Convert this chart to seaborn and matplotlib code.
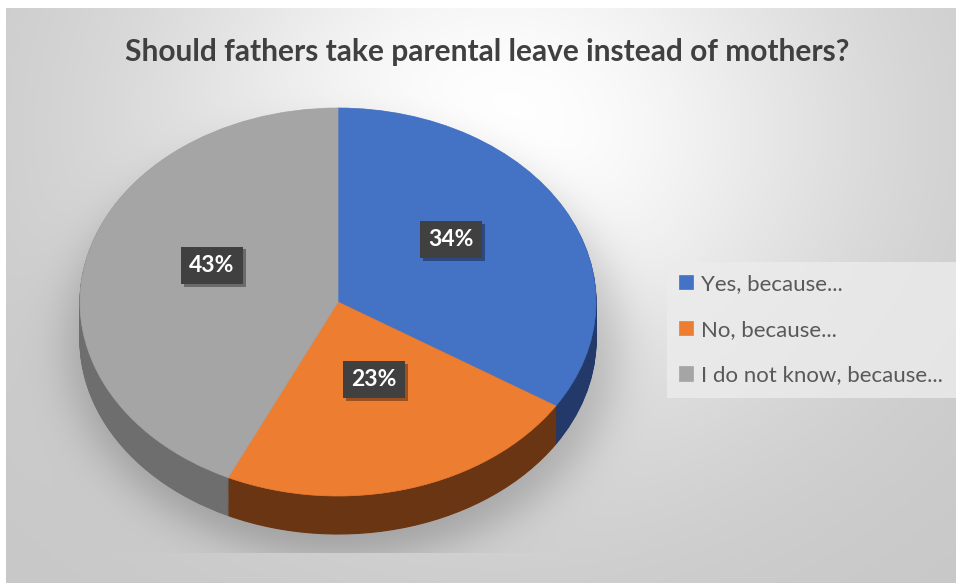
import numpy as np
import matplotlib
matplotlib.use("Agg")
import matplotlib.pyplot as plt
import matplotlib.patheffects as pe
import seaborn as sns

# ---- data ----
categories = ["Yes, because...", "No, because...", "I do not know, because..."]
values = [34, 23, 43]
title = "Should fathers take parental leave instead of mothers?"

top_colors = ["#4472C4", "#ED7D31", "#A5A5A5"]
side_colors = ["#22396a", "#6a3512", "#6e6e6e"]

sns.set_theme(style="white")
plt.rcParams["font.family"] = ["Lato", "DejaVu Sans"]

W, H = 956, 583
fig = plt.figure(figsize=(W / 100, H / 100), dpi=100)
fig.patch.set_facecolor("white")

# ---- background gradient ----
bg = fig.add_axes([0, 0, 1, 1], zorder=-10)
yy, xx = np.mgrid[0:H, 0:W]
rr = np.sqrt(((xx - 500.0) / 520.0) ** 2 + ((yy - 130.0) / 450.0) ** 2)
val = 255 - 56 * (1 - np.exp(-(rr / 0.7) ** 2))
# soft shadow around pie
r = np.sqrt(((xx - 343.0) / 274.0) ** 2 + ((yy - 342.0) / 214.0) ** 2)
shadow = 48 / (1 + np.exp((r - 1.0) / 0.055))
shadow[yy > 552] = 0
val = val - shadow
val = np.clip(val, 0, 255)
img = np.stack([val, val, val], axis=-1) / 255.0
img[:, :6] = 1.0
img[:8, :] = 1.0
bg.imshow(img, extent=(0, W, H, 0), aspect="auto", interpolation="bilinear")
bg.set_xlim(0, W)
bg.set_ylim(H, 0)
bg.axis("off")

# ---- pie axes ----
cx, cy, rx, ry, depth_px = 338, 302, 258, 194, 38
L, R, T, B = 40, 640, 80, 580
ax = fig.add_axes([L / W, (H - B) / H, (R - L) / W, (B - T) / H])
ax.patch.set_alpha(0)

depth = depth_px / ry
for k in np.linspace(depth, 0.005, 40):
    wedges, _ = ax.pie(values, colors=side_colors, startangle=90, counterclock=False,
                       center=(0, -k), wedgeprops=dict(linewidth=0))
    for w in wedges:
        w.set_edgecolor(w.get_facecolor())
        w.set_linewidth(0.8)

wedges, texts, autotexts = ax.pie(
    values, colors=top_colors, startangle=90, counterclock=False,
    autopct=lambda p: f"{p:.0f}%", pctdistance=0.5,
    wedgeprops=dict(linewidth=0),
    textprops=dict(color="white", fontsize=16.5, fontweight="bold"))
for w in wedges:
    w.set_edgecolor(w.get_facecolor())
    w.set_linewidth(0.5)
for t in autotexts:
    x0, y0 = t.get_position()
    t.set_position((x0, y0 + 0.08))
    t.set_bbox(dict(boxstyle="square,pad=0.36", fc="#404040", ec="none"))
    t.get_bbox_patch().set_path_effects(
        [pe.withSimplePatchShadow(offset=(2, -2), shadow_rgbFace="black", alpha=0.35)])

ax.set_xlim(-(cx - L) / rx, (R - cx) / rx)
ax.set_ylim(-(B - cy) / ry, (cy - T) / ry)
ax.set_aspect("auto")
ax.axis("off")

# ---- title ----
fig.text(487 / W, 1 - 52 / H, title, ha="center", va="center",
         fontsize=21.5, fontweight="bold", color="#404040")

# ---- legend ----
leg = fig.legend(wedges, categories, loc="upper left",
                 bbox_to_anchor=(667 / W, 1 - 262 / H),
                 frameon=True, fancybox=False, fontsize=16,
                 handlelength=0.6, handleheight=0.6, handletextpad=0.4,
                 labelspacing=1.15, borderpad=0.55, borderaxespad=0)
leg.get_frame().set_facecolor("#ececec")
leg.get_frame().set_edgecolor("none")
for t in leg.get_texts():
    t.set_color("#595959")

fig.savefig("out.png", dpi=100)
